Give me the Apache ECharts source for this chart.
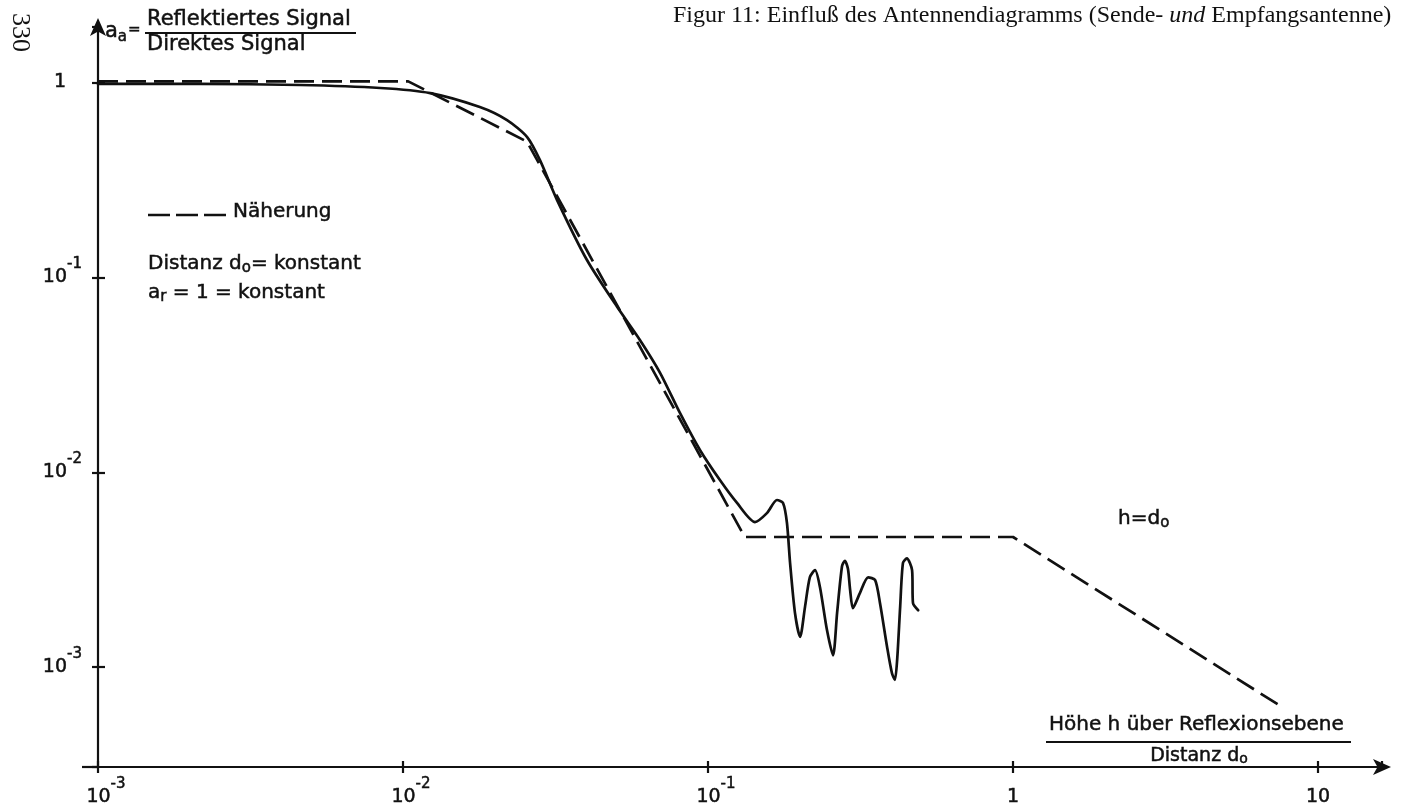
<!DOCTYPE html>
<html>
<head>
<meta charset="utf-8">
<script src="https://cdn.jsdelivr.net/npm/echarts@6/dist/echarts.min.js"></script>
<style>
  html, body { margin: 0; padding: 0; background: #fff; }
  #chart { width: 1410px; height: 811px; }
</style>
</head>
<body>
<div id="chart"></div>
<script>
// Figur 11: gemessene Kurve (durchgezogen) und Näherung (gestrichelt), log-log
const solidX = [0.001, 0.00216, 0.00459, 0.00842, 0.01228, 0.01786, 0.02193, 0.02553, 0.02812,
  0.0320, 0.0401, 0.0504, 0.0598, 0.0697, 0.0809, 0.0942, 0.1094, 0.1245, 0.1426, 0.156,
  0.1683, 0.1762, 0.1815, 0.1858, 0.1928, 0.2004, 0.208, 0.2158, 0.2244, 0.2328, 0.2455,
  0.257, 0.265, 0.275, 0.281, 0.2876, 0.2924, 0.2985, 0.3148, 0.335, 0.3532, 0.3664, 0.3865,
  0.401, 0.410, 0.417, 0.4266, 0.4357, 0.4487, 0.4667, 0.47, 0.4887];
const solidY = [0.99, 0.99, 0.977, 0.943, 0.888, 0.753, 0.645, 0.528, 0.402,
  0.2506, 0.1233, 0.0707, 0.0479, 0.0324, 0.0202, 0.0130, 0.00914, 0.00697, 0.00556, 0.00618,
  0.00722, 0.00697, 0.0055, 0.00343, 0.0019, 0.00143, 0.00204, 0.0029, 0.00315, 0.00258, 0.00155,
  0.00115, 0.0019, 0.0033, 0.00352, 0.0032, 0.00249, 0.00201, 0.0024, 0.00289, 0.0028, 0.00213, 0.00127,
  0.00093, 0.00086, 0.00109, 0.00204, 0.00343, 0.00362, 0.00315, 0.00213, 0.00196];

const approxX = [0.001, 0.0104, 0.0255, 0.132, 1.0, 7.67];
const approxY = [1.02, 1.02, 0.5, 0.00466, 0.00466, 0.00062];

// Achsbeschriftung: Basis + Exponent, Index = Exponent + 3
const xTickBase = ['10', '10', '10', '1', '10'];
const xTickSup = ['-3', '-2', '-1', '', ''];
const yTickBase = ['10', '10', '10', '1'];
const yTickSup = ['-3', '-2', '-1', ''];

const INK = '#111';
const SANS = 'DejaVu Sans';
const SERIF = 'Liberation Serif';
const BOLDEN = 0.5; // Tuschestrich etwas kräftiger

const chart = echarts.init(document.getElementById('chart'));

function tickLabel(base, sup) {
  return v => {
    const i = Math.round(Math.log10(v)) + 3;
    if (base[i] == null) return '';
    return sup[i] ? '{b|' + base[i] + '}{s|' + sup[i] + '}' : '{n|' + base[i] + '}';
  };
}

const txt = { fontFamily: SANS, color: INK, textBorderColor: INK, textBorderWidth: BOLDEN };

const xRich = {
  b: Object.assign({ fontSize: 19, lineHeight: 30, verticalAlign: 'bottom', padding: [0, 0, 0, 16] }, txt),
  s: Object.assign({ fontSize: 15, lineHeight: 15, verticalAlign: 'top' }, txt),
  n: Object.assign({ fontSize: 19, lineHeight: 30, verticalAlign: 'bottom' }, txt)
};
const yRich = {
  b: Object.assign({ fontSize: 19, lineHeight: 30, verticalAlign: 'bottom' }, txt),
  s: Object.assign({ fontSize: 15, lineHeight: 15, verticalAlign: 'top' }, txt),
  n: Object.assign({ fontSize: 19, lineHeight: 30, verticalAlign: 'bottom', padding: [0, 16, 0, 0] }, txt)
};

const lineCol = { color: INK, width: 2.2 };
// Pfeilspitze sitzt mit ihrer Basis auf dem Achsende
const arrow = { symbol: ['none', 'arrow'], symbolSize: [12, 18], symbolOffset: [0, 9] };

// Text mit etwas kräftigerem Strich (graphic)
function gText(x, y, text, size) {
  return {
    type: 'text', x: x, y: y,
    style: { text: text, font: size + 'px "' + SANS + '"', fill: INK,
      stroke: INK, lineWidth: BOLDEN, textVerticalAlign: 'middle' }
  };
}
function gSub(x, y, text, size, subPad, align) {
  return {
    type: 'text', x: x, y: y,
    style: {
      text: text, textVerticalAlign: 'middle', textAlign: align || 'left',
      rich: {
        t: { fontFamily: SANS, fontSize: size, fill: INK, stroke: INK, lineWidth: BOLDEN },
        sub: { fontFamily: SANS, fontSize: size - 5, fill: INK, stroke: INK, lineWidth: BOLDEN,
          padding: [subPad, 0, 0, 0] }
      }
    }
  };
}

chart.setOption({
  animation: false,
  grid: { left: 98, top: 27, width: 1284, height: 740, containLabel: false },
  xAxis: [{
    type: 'log', logBase: 10, min: 0.001, max: 16.21,
    axisLine: Object.assign({ lineStyle: lineCol }, arrow),
    axisTick: { inside: false, length: 6, lineStyle: lineCol },
    axisLabel: { formatter: tickLabel(xTickBase, xTickSup), rich: xRich, margin: 10, showMaxLabel: false },
    splitLine: { show: false }, minorTick: { show: false }
  }, {
    type: 'log', logBase: 10, min: 0.001, max: 16.21, position: 'bottom',
    axisLine: { show: false },
    axisTick: { inside: true, length: 6, lineStyle: lineCol },
    axisLabel: { show: false }, splitLine: { show: false }
  }],
  yAxis: [{
    type: 'log', logBase: 10, min: 0.000307, max: 1.94,
    axisLine: Object.assign({ lineStyle: lineCol }, arrow),
    axisTick: { inside: true, length: 7, lineStyle: lineCol },
    axisLabel: { formatter: tickLabel(yTickBase, yTickSup), rich: yRich, margin: 16,
      padding: [0, 0, 12, 0], showMinLabel: false, showMaxLabel: false },
    splitLine: { show: false }, minorTick: { show: false }
  }, {
    type: 'log', logBase: 10, min: 0.000307, max: 1.94, position: 'left',
    axisLine: { show: false },
    axisTick: { inside: false, length: 6, lineStyle: lineCol },
    axisLabel: { show: false }, splitLine: { show: false }
  }],
  series: [{
    name: 'Messung', type: 'line', xAxisIndex: 0, yAxisIndex: 0,
    data: solidX.map((x, i) => [x, solidY[i]]),
    smooth: 0.25, showSymbol: false,
    lineStyle: { color: INK, width: 2.7, cap: 'round', join: 'round' }
  }, {
    name: 'Näherung', type: 'line', xAxisIndex: 0, yAxisIndex: 0,
    data: approxX.map((x, i) => [x, approxY[i]]),
    showSymbol: false,
    lineStyle: { color: INK, width: 2.7, type: [20, 8] }
  }],
  graphic: [
    // Seitenzahl, gedreht
    { type: 'text', x: 20, y: 13, rotation: -Math.PI / 2,
      style: { text: '330', font: '26px "' + SERIF + '"', fill: INK, textVerticalAlign: 'middle' } },
    // Überschrift
    { type: 'text', x: 673, y: 16,
      style: {
        text: '{r|Figur 11: Einfluß des Antennendiagramms (Sende- }{i|und}{r| Empfangsantenne)}',
        textVerticalAlign: 'middle',
        rich: {
          r: { fontFamily: SERIF, fontSize: 24, fill: INK },
          i: { fontFamily: SERIF, fontSize: 24, fontStyle: 'italic', fill: INK }
        }
      } },
    // Ordinate: a_a = Reflektiertes Signal / Direktes Signal
    { type: 'text', x: 105, y: 32,
      style: {
        text: '{a|a}{sub|a}{e|=}', textVerticalAlign: 'middle',
        rich: {
          a: { fontFamily: SANS, fontSize: 21, fill: INK, stroke: INK, lineWidth: BOLDEN },
          sub: { fontFamily: SANS, fontSize: 15, fill: INK, stroke: INK, lineWidth: BOLDEN, padding: [10, 0, 0, 0] },
          e: { fontFamily: SANS, fontSize: 15, fill: INK, stroke: INK, lineWidth: BOLDEN, padding: [0, 0, 4, 1] }
        }
      } },
    gText(147, 20, 'Reflektiertes Signal', 21),
    { type: 'line', shape: { x1: 145, y1: 33, x2: 356, y2: 33 }, style: { stroke: INK, lineWidth: 2 } },
    gText(147, 45, 'Direktes Signal', 21),
    // Abszisse: Höhe h über Reflexionsebene / Distanz d_o
    gText(1049, 725, 'Höhe h über Reflexionsebene', 20),
    { type: 'line', shape: { x1: 1046, y1: 742, x2: 1351, y2: 742 }, style: { stroke: INK, lineWidth: 2 } },
    gSub(1199, 756, '{t|Distanz d}{sub|o}', 19, 6, 'center'),
    // kleines Überstehen der Abszisse links
    { type: 'line', shape: { x1: 82, y1: 767, x2: 98, y2: 767 }, style: { stroke: INK, lineWidth: 2.2 } },
    // Legende Näherung
    { type: 'line', shape: { x1: 148, y1: 215, x2: 232, y2: 215 },
      style: { stroke: INK, lineWidth: 2.7, lineDash: [22, 6] } },
    gText(233, 212, 'Näherung', 20),
    gSub(148, 264, '{t|Distanz d}{sub|o}{t|= konstant}', 20, 8),
    gSub(148, 293, '{t|a}{sub|r}{t| = 1 = konstant}', 20, 8),
    gSub(1118, 519, '{t|h=d}{sub|o}', 20, 8)
  ]
});

window.addEventListener('resize', () => chart.resize());
</script>
</body>
</html>
